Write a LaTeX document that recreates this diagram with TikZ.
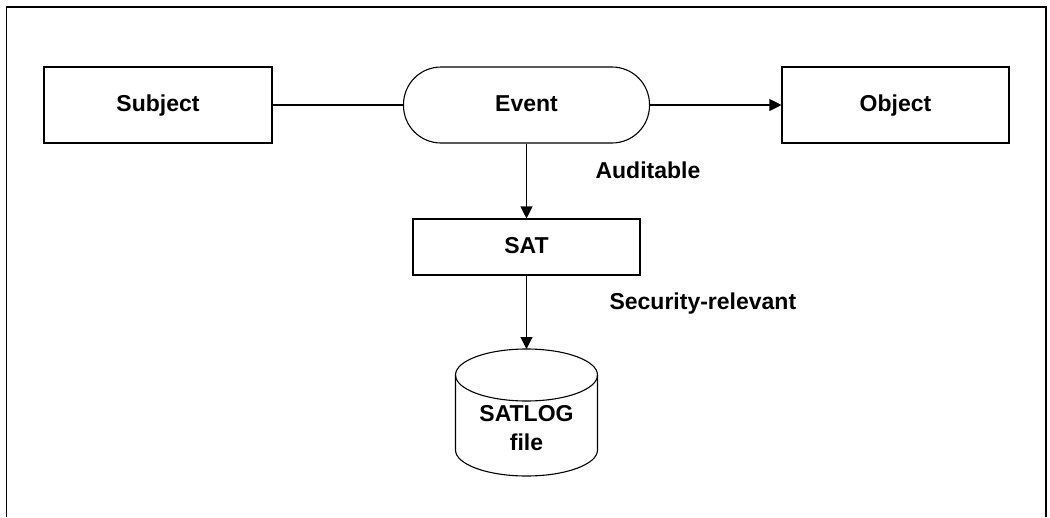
\documentclass[tikz,border=0pt]{standalone}
\usepackage{fontspec}
\setmainfont{Liberation Sans}
\usetikzlibrary{arrows.meta}

\begin{document}
\begin{tikzpicture}[x=1pt,y=-1pt,line width=1.1pt,
  box/.style={draw,minimum width=228pt,minimum height=76pt,text height=17pt,text depth=5pt,font=\fontsize{23}{28}\selectfont\bfseries},
  lbl/.style={anchor=west,inner sep=0pt,font=\fontsize{23}{28}\selectfont\bfseries},
  >={Triangle[length=12pt,width=12pt]}]
\useasboundingbox (0,0) rectangle (1050,517);
\draw (6.5,517) -- (6.5,7) -- (1046,7) -- (1046,517);
\node (subject) at (158,105) [box] {Subject};
\node (event) at (526.5,105) [box,minimum width=246pt,rounded corners=37.5pt] {Event};
\node (object) at (895.5,105) [box,minimum width=227pt] {Object};
\node (sat) at (526.5,247) [box,minimum width=227pt,minimum height=56pt] {SAT};
% the SATLOG file
\coordinate (satlog) at (526.5,349);
\draw (526.5,375) ellipse [x radius=71, y radius=26];
\draw (455.5,375) -- (455.5,450) arc [start angle=180, end angle=0, x radius=71, y radius=26] -- (597.5,375);
\node (satlogtext) at (526.5,428) [align=center,font=\fontsize{23}{29}\selectfont\bfseries] {SATLOG\\file};
\node (auditable) at (595,170) [lbl] {Auditable};
\node (secrel) at (609,304) [lbl] {Security-relevant};
\draw (subject) -- (event);
\draw[->] (event) -- (object);
\draw[->] (event) -- (sat);
\draw[->] (sat) -- (satlog);
\end{tikzpicture}
\end{document}
